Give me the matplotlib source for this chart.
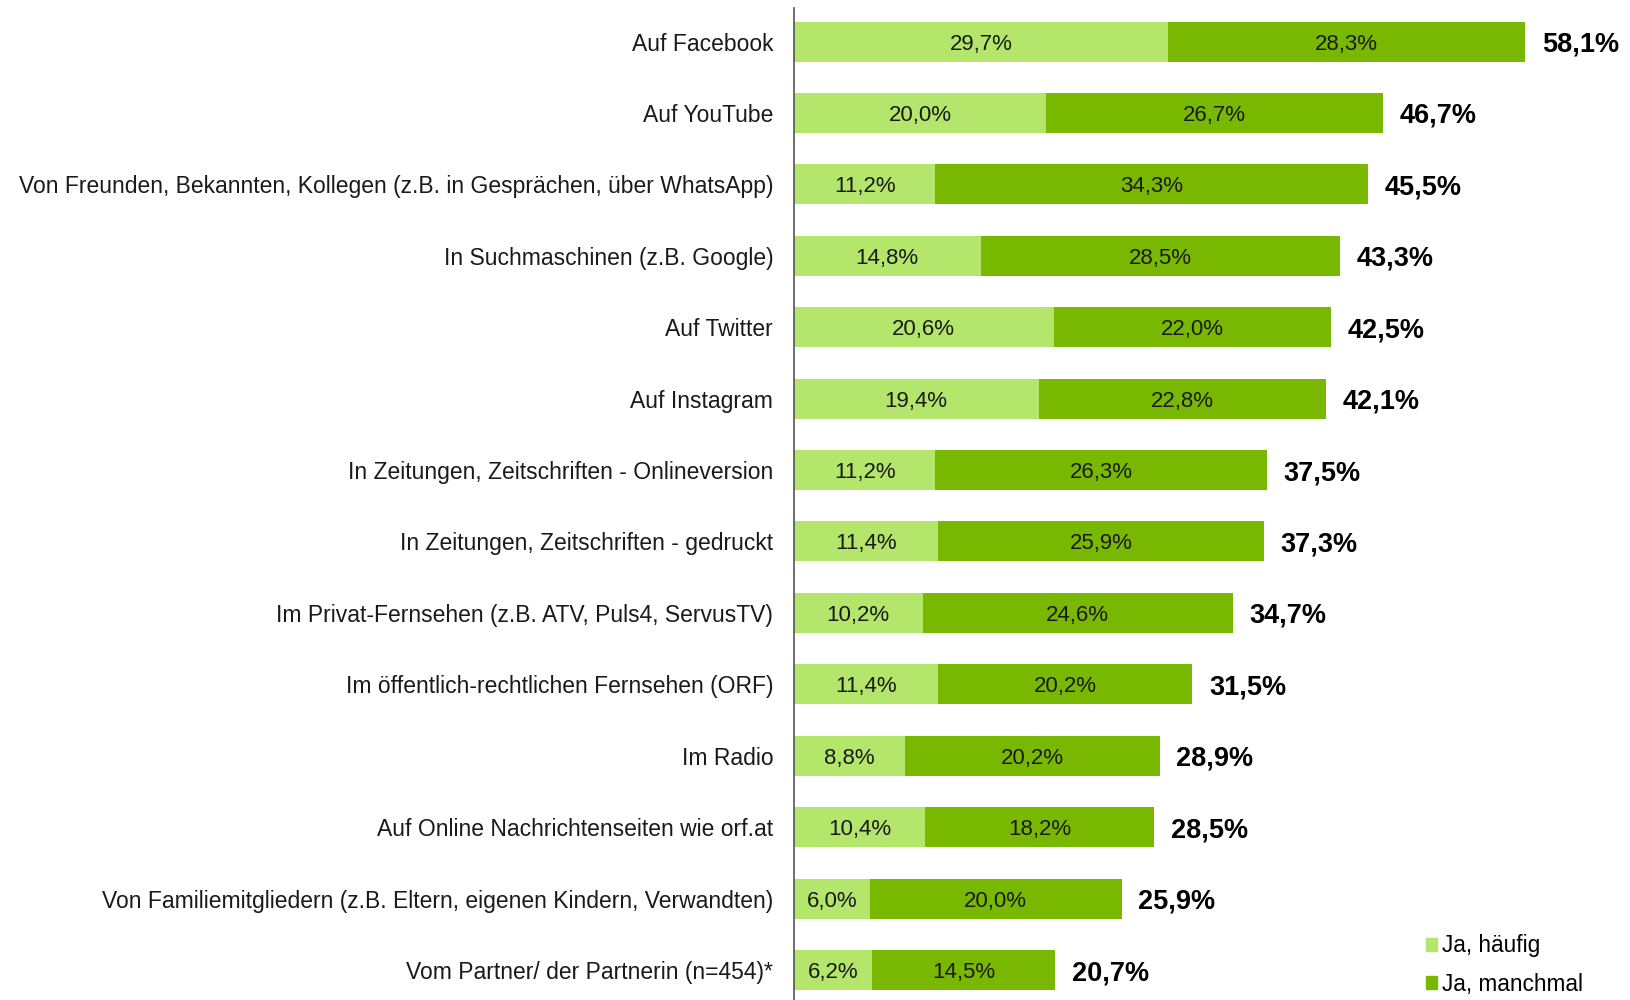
import matplotlib
matplotlib.use("Agg")
import matplotlib.pyplot as plt
from matplotlib.patches import Patch

plt.rcParams['font.family'] = ['Liberation Sans', 'DejaVu Sans']

categories = [
    "Auf Facebook",
    "Auf YouTube",
    "Von Freunden, Bekannten, Kollegen (z.B. in Gesprächen, über WhatsApp)",
    "In Suchmaschinen (z.B. Google)",
    "Auf Twitter",
    "Auf Instagram",
    "In Zeitungen, Zeitschriften - Onlineversion",
    "In Zeitungen, Zeitschriften - gedruckt",
    "Im Privat-Fernsehen (z.B. ATV, Puls4, ServusTV)",
    "Im öffentlich-rechtlichen Fernsehen (ORF)",
    "Im Radio",
    "Auf Online Nachrichtenseiten wie orf.at",
    "Von Familiemitgliedern (z.B. Eltern, eigenen Kindern, Verwandten)",
    "Vom Partner/ der Partnerin (n=454)*",
]
haeufig = [29.7, 20.0, 11.2, 14.8, 20.6, 19.4, 11.2, 11.4, 10.2, 11.4, 8.8, 10.4, 6.0, 6.2]
manchmal = [28.3, 26.7, 34.3, 28.5, 22.0, 22.8, 26.3, 25.9, 24.6, 20.2, 20.2, 18.2, 20.0, 14.5]
total = [58.1, 46.7, 45.5, 43.3, 42.5, 42.1, 37.5, 37.3, 34.7, 31.5, 28.9, 28.5, 25.9, 20.7]

c_light = "#b3e66b"
c_dark = "#79b800"


def fmt(v):
    return f"{v:.1f}".replace(".", ",") + "%"


fig = plt.figure(figsize=(16.31, 10), dpi=100)
ax = fig.add_axes([0.4868, 0.0, 0.5132, 0.992])

y = list(range(len(categories)))
h = 0.56
ax.barh(y, haeufig, h, color=c_light, label="Ja, häufig")
ax.barh(y, manchmal, h, left=haeufig, color=c_dark, label="Ja, manchmal")

for i in y:
    ax.text(haeufig[i] / 2, i, fmt(haeufig[i]), ha="center",
            va="center_baseline", fontsize=16, color="#1a1a1a")
    ax.text(haeufig[i] + manchmal[i] / 2, i, fmt(manchmal[i]), ha="center",
            va="center_baseline", fontsize=16, color="#1a1a1a")
    ax.annotate(fmt(total[i]), xy=(haeufig[i] + manchmal[i], i),
                xytext=(12, 0), textcoords="offset points",
                ha="left", va="center_baseline", fontsize=19.5,
                fontweight="bold")

ax.set_xlim(0, 66.4)
ax.set_ylim(13.42, -0.47)
ax.set_yticks(y)
ax.set_yticklabels(categories, fontsize=16.5, color="#1a1a1a")
ax.tick_params(axis="y", length=0, pad=15)
ax.set_xticks([])
for s in ["top", "right", "bottom"]:
    ax.spines[s].set_visible(False)
ax.spines["left"].set_color("#555555")
ax.spines["left"].set_linewidth(1.2)

handles = [Patch(color=c_light), Patch(color=c_dark)]
fig.legend(handles, ["Ja, häufig", "Ja, manchmal"], loc="lower right",
           bbox_to_anchor=(0.983, -0.016), frameon=False, fontsize=16.3,
           handlelength=0.5, handleheight=0.5, handletextpad=0.2,
           labelspacing=0.68)

fig.savefig("out.png", dpi=100)
